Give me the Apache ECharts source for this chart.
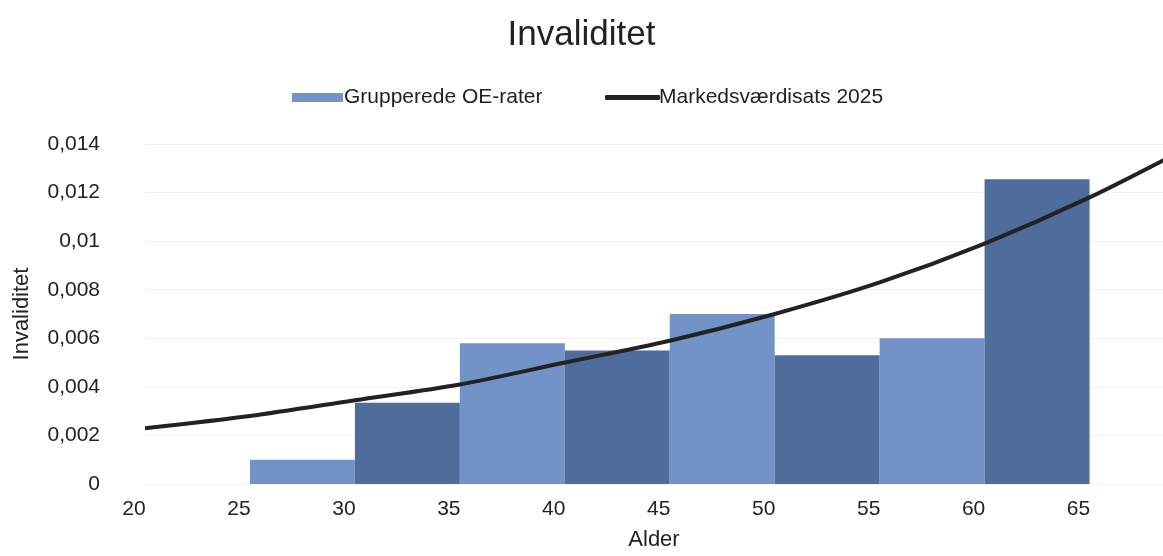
<!DOCTYPE html>
<html><head><meta charset="utf-8">
<script src="https://cdn.jsdelivr.net/npm/echarts@6/dist/echarts.min.js"></script>
<style>html,body{margin:0;padding:0;background:#fff}#c{width:1163px;height:556px}</style>
</head><body><div id="c"></div>
<script>
// Histogram bins (age groups) and grouped OE rates
const binStarts = [25, 30, 35, 40, 45, 50, 55, 60];
const binEnds   = [30, 35, 40, 45, 50, 55, 60, 65];
const oeRates   = [0.001, 0.00335, 0.0058, 0.0055, 0.0070, 0.0053, 0.0060, 0.01255];
// Market value rate curve
const curveAges  = [20, 25, 30, 35, 40, 45, 50, 55, 60, 65, 70];
const curveRates = [0.0023, 0.0028, 0.00345, 0.0041, 0.0050, 0.0059, 0.0070, 0.0083, 0.0099, 0.0118, 0.0140];
const xTicks = [20, 25, 30, 35, 40, 45, 50, 55, 60, 65];

const light = '#7393c8', dark = '#4e6c9c';
const chart = echarts.init(document.getElementById('c'));
const font = 'Liberation Sans, Arial, sans-serif';
const txt = '#222';
chart.setOption({
  animation: false,
  textStyle: {fontFamily: font},
  title: {text: 'Invaliditet', left: 'center', top: 13,
    textStyle: {fontSize: 35, fontWeight: 'normal', color: txt, fontFamily: font}},
  legend: [
    {top: 82, left: 287, itemWidth: 51, itemHeight: 9, icon: 'rect',
     textStyle: {fontSize: 21, color: txt, padding: [0,0,0,-4]},
     data: ['Grupperede OE-rater']},
    {top: 82, left: 600, itemWidth: 55, itemHeight: 5, icon: 'roundRect',
     textStyle: {fontSize: 21, color: txt, padding: [0,0,0,-6]},
     data: ['Markedsværdisats 2025']}
  ],
  grid: {left: 145, right: 0, top: 144, bottom: 71},
  xAxis: {type: 'value', min: 20, max: 68.5, interval: 5,
    name: 'Alder', nameLocation: 'middle', nameGap: 45,
    nameTextStyle: {fontSize: 22, color: txt},
    axisLine: {show: false}, axisTick: {show: false}, splitLine: {show: false},
    axisLabel: {fontSize: 21, color: txt, margin: 15, showMaxLabel: false,
      padding: [0, 22, 0, 0],
      formatter: v => xTicks.includes(v) ? String(v) : ''}},
  yAxis: {type: 'value', min: 0, max: 0.014, interval: 0.002,
    name: 'Invaliditet', nameLocation: 'middle', nameGap: 112,
    nameTextStyle: {fontSize: 22, color: txt},
    axisLine: {show: false}, axisTick: {show: false},
    splitLine: {lineStyle: {color: '#f2f2f2'}},
    axisLabel: {fontSize: 21, color: txt, margin: 45,
      formatter: v => String(+v.toFixed(3)).replace('.', ',')}},
  series: [
    {name: 'Grupperede OE-rater', type: 'custom', itemStyle: {color: light},
     data: binStarts.map((s, i) => [s, binEnds[i], oeRates[i], i]),
     encode: {x: [0, 1], y: 2},
     renderItem: (params, api) => {
       const p0 = api.coord([api.value(0), api.value(2)]);
       const p1 = api.coord([api.value(1), 0]);
       return {type: 'rect', shape: {x: p0[0], y: p0[1], width: p1[0] - p0[0], height: p1[1] - p0[1]},
         style: {fill: api.value(3) % 2 === 0 ? light : dark}};
     }},
    {name: 'Markedsværdisats 2025', type: 'line', smooth: 0.3, symbol: 'none', z: 5,
     data: curveAges.map((a, i) => [a, curveRates[i]]),
     lineStyle: {color: '#222', width: 4}, itemStyle: {color: '#222'}}
  ]
});
</script></body></html>
